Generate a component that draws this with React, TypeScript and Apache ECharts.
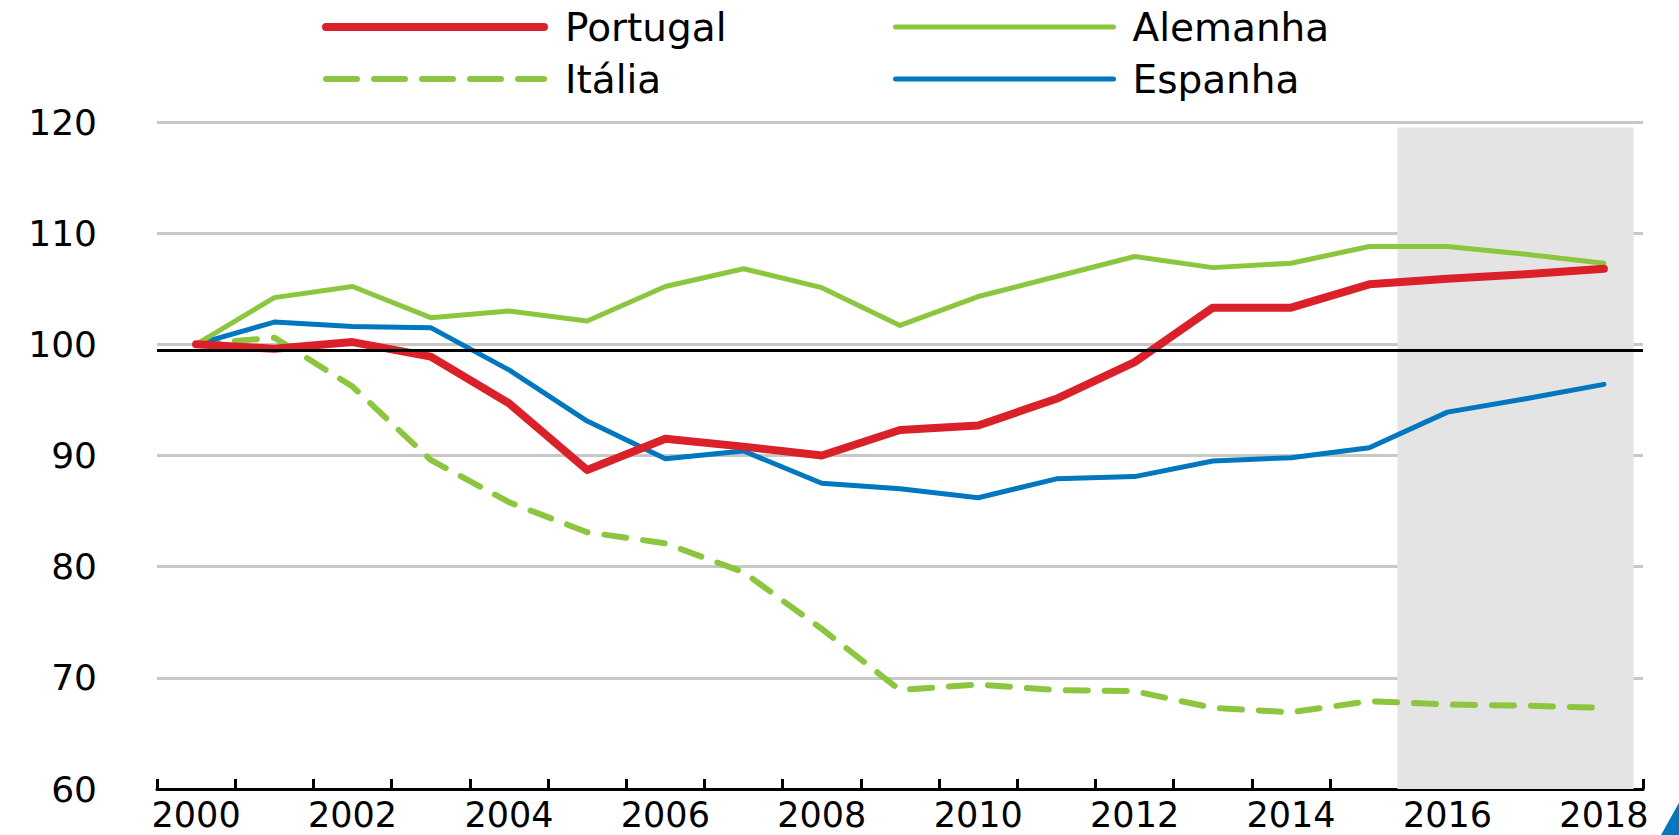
import React, { useEffect, useRef } from "react";
import * as echarts from "echarts";

const years = ["2000","2001","2002","2003","2004","2005","2006","2007","2008","2009","2010","2011","2012","2013","2014","2015","2016","2017","2018"];
const portugal = [100, 99.6, 100.2, 98.9, 94.7, 88.7, 91.5, 90.8, 90.0, 92.3, 92.7, 95.1, 98.4, 103.3, 103.3, 105.4, 105.9, 106.3, 106.8];
const alemanha = [100, 104.2, 105.2, 102.4, 103.0, 102.1, 105.2, 106.8, 105.1, 101.7, 104.3, 106.1, 107.9, 106.9, 107.3, 108.8, 108.8, 108.1, 107.3];
const italia = [100, 100.6, 96.2, 89.6, 85.8, 83.1, 82.1, 79.5, 74.4, 68.9, 69.4, 68.9, 68.8, 67.3, 66.9, 67.9, 67.6, 67.5, 67.3];
const espanha = [100, 102.0, 101.6, 101.5, 97.7, 93.1, 89.7, 90.4, 87.5, 87.0, 86.2, 87.9, 88.1, 89.5, 89.8, 90.7, 93.9, 95.1, 96.4];
const yTicks = { min: 60, max: 120, interval: 10 };
const referenceLevel = 99.45;
const projectionStart = 15.36;
const projectionEnd = 18.38;
const projectionTop = 119.5;

const RED = "#DA2129";
const GREEN = "#8CC63F";
const BLUE = "#0077BE";
const FONT = "DejaVu Sans";

export default function App() {
  const ref = useRef<HTMLDivElement>(null);
  useEffect(() => {
    if (!ref.current) return;
    const chart = echarts.init(ref.current, null, { renderer: "svg" });
    const legendText = {
      fontFamily: FONT,
      fontSize: 39,
      color: "#000",
      lineHeight: 40,
    };
    const legendCommon = {
      top: 7,
      orient: "vertical",
      padding: 0,
      itemWidth: 218,
      itemHeight: 14,
      itemGap: 12,
      lineStyle: { width: "inherit" },
      itemStyle: { color: "rgba(0,0,0,0)", borderWidth: 0, opacity: 0 },
    };
    chart.setOption({
      animation: false,
      backgroundColor: "#fff",
      grid: { left: 157, right: 36, top: 122, bottom: 46, containLabel: false },
      legend: [
        {
          ...legendCommon,
          left: 322,
          textStyle: { ...legendText, padding: [0, 0, 0, 16] },
          data: [
            { name: "Portugal" },
            { name: "Itália", lineStyle: { type: [31, 17] } },
          ],
        },
        {
          ...legendCommon,
          left: 893,
          textStyle: { ...legendText, padding: [0, 0, 0, 14] },
          data: [{ name: "Alemanha" }, { name: "Espanha" }],
        },
      ],
      xAxis: [
        {
          type: "category",
          data: years,
          boundaryGap: true,
          axisLine: { show: true, lineStyle: { color: "#000", width: 3 } },
          axisTick: { show: true, inside: true, length: 10, lineStyle: { color: "#000", width: 3 }, interval: 0 },
          axisLabel: {
            interval: 1,
            fontFamily: FONT,
            fontSize: 35,
            lineHeight: 32,
            color: "#000",
            margin: 10,
          },
          splitLine: { show: false },
        },
        {
          type: "value",
          min: -0.5,
          max: 18.5,
          show: false,
        },
      ],
      yAxis: {
        type: "value",
        min: yTicks.min,
        max: yTicks.max,
        interval: yTicks.interval,
        axisLine: { show: false },
        axisTick: { show: false },
        axisLabel: { fontFamily: FONT, fontSize: 36, color: "#000", margin: 60 },
        splitLine: { show: true, lineStyle: { color: "#C8C8C8", width: 3 } },
      },
      series: [
        {
          name: "shade",
          type: "line",
          xAxisIndex: 1,
          data: [],
          z: -1,
          silent: true,
          markArea: {
            silent: true,
            itemStyle: { color: "#E4E4E4" },
            data: [[{ xAxis: projectionStart, yAxis: projectionTop }, { xAxis: projectionEnd, yAxis: yTicks.min }]],
          },
        },
        {
          name: "Itália",
          type: "line",
          data: italia,
          symbol: "none",
          color: GREEN,
          lineStyle: { color: GREEN, width: 6, type: [22, 17], cap: "round", join: "round" },
        },
        {
          name: "Espanha",
          type: "line",
          data: espanha,
          symbol: "none",
          color: BLUE,
          lineStyle: { color: BLUE, width: 5, cap: "round", join: "round" },
        },
        {
          name: "Alemanha",
          type: "line",
          data: alemanha,
          symbol: "none",
          color: GREEN,
          lineStyle: { color: GREEN, width: 5, cap: "round", join: "round" },
        },
        {
          name: "Portugal",
          type: "line",
          data: portugal,
          symbol: "none",
          color: RED,
          lineStyle: { color: RED, width: 8, cap: "round", join: "round" },
        },
        {
          name: "ref",
          type: "line",
          data: [],
          silent: true,
          markLine: {
            silent: true,
            symbol: ["none", "none"],
            label: { show: false },
            lineStyle: { color: "#000", width: 3, type: "solid" },
            data: [{ yAxis: referenceLevel }],
          },
        },
      ],
      graphic: [
        {
          type: "polygon",
          shape: { points: [[1661, 835], [1680, 801], [1680, 835]] },
          style: { fill: BLUE },
          silent: true,
        },
      ],
    });
    return () => chart.dispose();
  }, []);
  return (
    <div
      ref={ref}
      style={{ position: "fixed", left: 0, top: 0, width: 1679, height: 835 }}
    />
  );
}
